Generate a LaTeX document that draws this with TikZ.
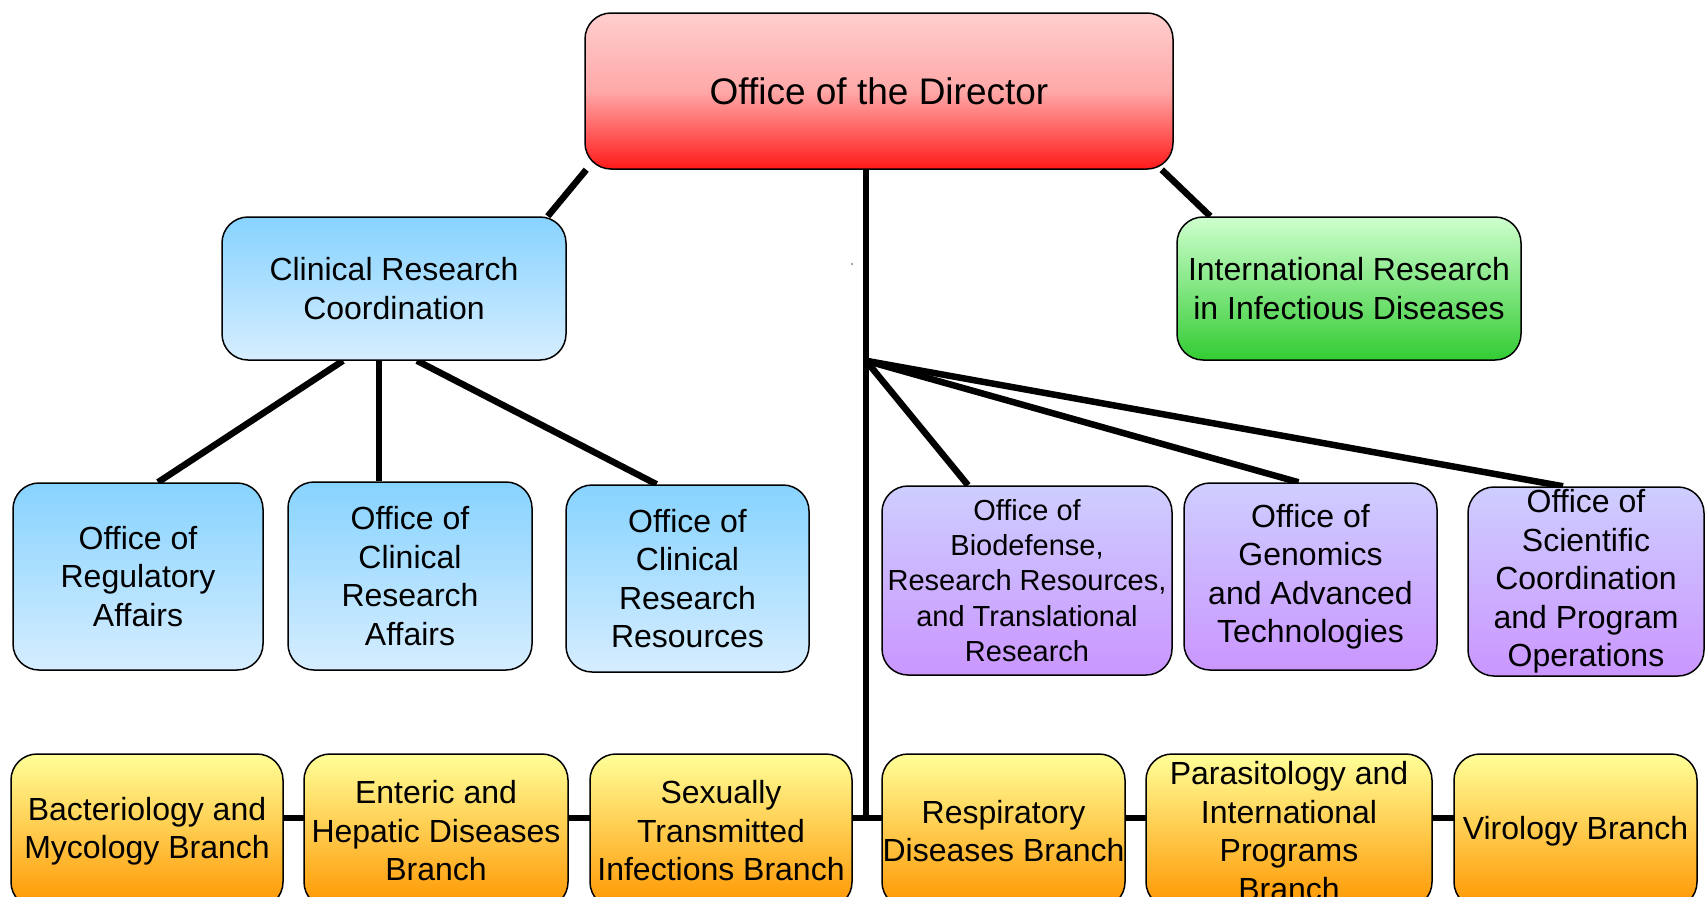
\documentclass[tikz,border=0pt]{standalone}
\usepackage{fontspec}
\setmainfont{Liberation Sans}
\usetikzlibrary{calc,backgrounds}

\definecolor{redtop}{RGB}{255,206,206}
\definecolor{redmid}{RGB}{255,168,168}
\definecolor{redbot}{RGB}{255,26,26}
\definecolor{bluetop}{RGB}{135,211,255}
\definecolor{bluebot}{RGB}{214,237,255}
\definecolor{greentop}{RGB}{206,255,206}
\definecolor{greenbot}{RGB}{51,204,51}
\definecolor{purptop}{RGB}{206,206,255}
\definecolor{purpbot}{RGB}{202,150,255}
\definecolor{orgtop}{RGB}{255,255,153}
\definecolor{orgbot}{RGB}{255,150,0}

\tikzset{
	box/.style={draw=black, line width=1.5pt, rounded corners=26pt, inner sep=0pt, align=center, font=\fontsize{32}{38.5}\selectfont},
	redbox/.style={box, top color=redtop, bottom color=redbot, middle color=redmid, font=\fontsize{37}{44}\selectfont},
	bluebox/.style={box, top color=bluetop, bottom color=bluebot},
	greenbox/.style={box, top color=greentop, bottom color=greenbot},
	purplebox/.style={box, top color=purptop, bottom color=purpbot},
	orangebox/.style={box, top color=orgtop, bottom color=orgbot},
	link/.style={line width=6.5pt},
}

\begin{document}
\begin{tikzpicture}[x=1pt, y=-1pt]
			%%%%% START %%%%%
			\useasboundingbox (0, 0) rectangle (1706, 897);
			\clip (0, 0) rectangle (1706, 897);
			
			\node[redbox, minimum width=588pt, minimum height=156pt] (dir) at (879, 91) {Office of the Director};
			
			\node[bluebox, minimum width=344pt, minimum height=143pt] (crc) at (394, 288.5) {Clinical Research\\Coordination};
			\node[greenbox, minimum width=344pt, minimum height=143pt] (irid) at (1349, 288.5) {International Research\\in Infectious Diseases};
			
			\node[bluebox, minimum width=250pt, minimum height=187pt] (ora) at (138, 576.5) {Office of\\Regulatory\\Affairs};
			\node[bluebox, minimum width=244pt, minimum height=188pt] (ocra) at (410, 576) {Office of\\Clinical\\Research\\Affairs};
			\node[bluebox, minimum width=243pt, minimum height=187pt] (ocrr) at (687.5, 578.5) {Office of\\Clinical\\Research\\Resources};
			
			\node[purplebox, minimum width=290pt, minimum height=189pt, font=\fontsize{29}{35.4}\selectfont] (obr) at (1027, 580.5) {Office of\\Biodefense,\\Research Resources,\\and Translational\\Research};
			\node[purplebox, minimum width=253pt, minimum height=187pt] (ogat) at (1310.5, 576.5) {Office of\\Genomics\\and Advanced\\Technologies};
			\node[purplebox, minimum width=236pt, minimum height=189pt] (oscpo) at (1586, 581.5) {Office of\\Scientific\\Coordination\\and Program\\Operations};
			
			\node[orangebox, minimum width=272pt, minimum height=154pt] (bmb) at (147, 831) {Bacteriology and\\Mycology Branch};
			\node[orangebox, minimum width=264pt, minimum height=154pt] (ehdb) at (436, 831) {Enteric and\\Hepatic Diseases\\Branch};
			\node[orangebox, minimum width=262pt, minimum height=154pt] (stib) at (721, 831) {Sexually\\Transmitted\\Infections Branch};
			\node[orangebox, minimum width=243pt, minimum height=154pt] (rdb) at (1003.5, 831) {Respiratory\\Diseases Branch};
			\node[orangebox, minimum width=286pt, minimum height=154pt] (pipb) at (1289, 831) {Parasitology and\\International\\Programs\\Branch};
			\node[orangebox, minimum width=243pt, minimum height=154pt] (vb) at (1575.5, 831) {Virology Branch};
			
			\coordinate (trunktop) at ($(dir.south)+(-13, 0)$);
			\coordinate (trunkbot) at (trunktop |- 0, 818);
			\coordinate (fork) at (trunktop |- crc.south);
			
			\begin{scope}[on background layer]
				\draw[link] ([xshift=2pt]dir.south west) -- ([xshift=-19pt]crc.north east);
				\draw[link] ([xshift=-12pt]dir.south east) -- ([xshift=34pt]irid.north west);
				\draw[link] (trunktop) -- (trunkbot);
				
				\draw[link] ([xshift=-51pt]crc.south) -- ([xshift=20pt]ora.north);
				\draw[link] ([xshift=-15pt]crc.south) -- ([xshift=-31pt]ocra.north);
				\draw[link] ([xshift=23pt]crc.south) -- ([xshift=-31pt]ocrr.north);
				
				\draw[link] (fork) -- ([xshift=-59pt]obr.north);
				\draw[link] (fork) -- ([xshift=-12pt]ogat.north);
				\draw[link] (fork) -- ([xshift=-23pt]oscpo.north);
				
				\draw[link] (bmb.center |- trunkbot) -- (vb.center |- trunkbot);
			\end{scope}
			
			\fill[black!60] (852, 264) circle (1);
			%%%%% END %%%%%
\end{tikzpicture}
\end{document}
